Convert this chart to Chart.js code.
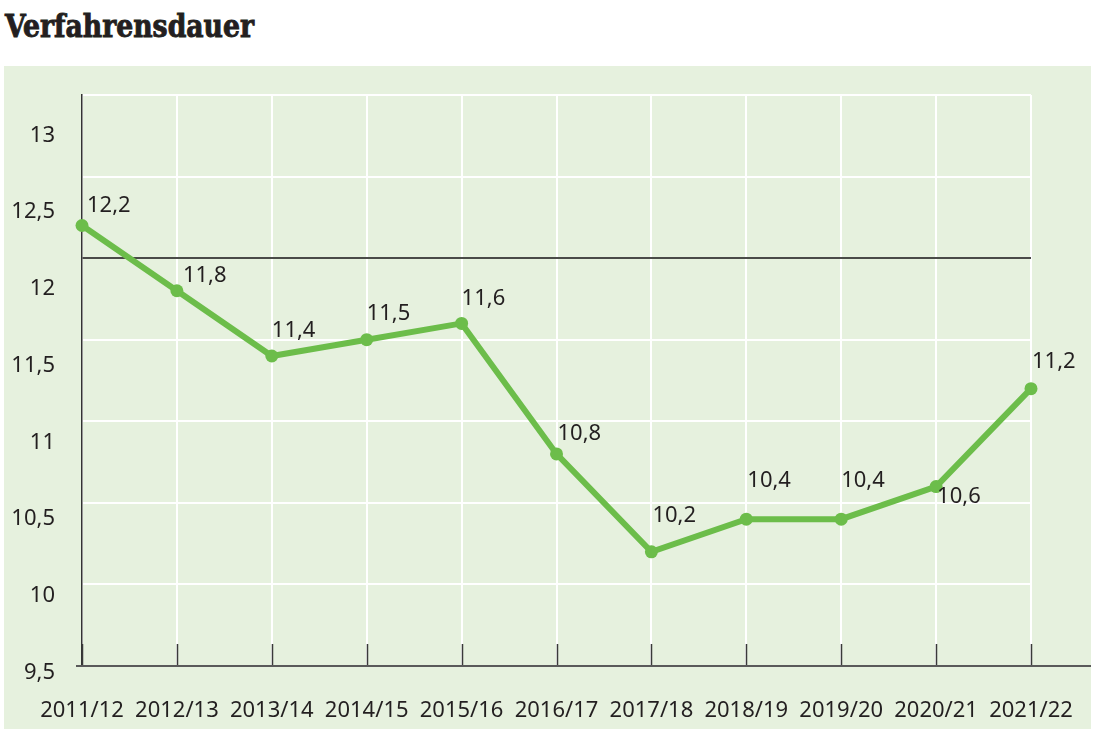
<!DOCTYPE html>
<html>
<head>
<meta charset="utf-8">
<script src="https://cdn.jsdelivr.net/npm/chart.js@4.4.1/dist/chart.umd.min.js"></script>
<style>
body{margin:0;background:#fff;width:1105px;height:739px;overflow:hidden;}
h1{position:absolute;left:5px;top:10px;margin:0;font-family:"DejaVu Serif",serif;font-stretch:condensed;font-weight:bold;font-size:32px;line-height:32px;color:#231f20;-webkit-text-stroke:0.9px #231f20;transform-origin:left top;white-space:nowrap;}
#box{position:absolute;left:4px;top:66px;width:1087px;height:663px;background:#e6f1de;}
</style>
</head>
<body>
<h1 id="title">Verfahrensdauer</h1>
<div id="box"><canvas id="chart" width="1087" height="663"></canvas></div>
<script>
var years = ['2011/12', '2012/13', '2013/14', '2014/15', '2015/16', '2016/17', '2017/18', '2018/19', '2019/20', '2020/21', '2021/22'];
var dauer = [12.2, 11.8, 11.4, 11.5, 11.6, 10.8, 10.2, 10.4, 10.4, 10.6, 11.2];
var yTicks = [9.5, 10, 10.5, 11, 11.5, 12, 12.5, 13];
var refLine = 12;

var green = '#6cbd4a';
var ink = '#231f20';
var font = '"Noto Sans", sans-serif';

// where each value label sits relative to its point (dx, dy)
var labelShift = [[5,-20],[6,-15],[0,-25],[0,-26],[0,-25],[1,-20],[1,-36],[1,-38],[0,-38],[1,10],[1,-27]];

function komma(v){
	return String(v).replace('.', ',');
}

function noPad(axis){
	axis.paddingLeft = 0;
	axis.paddingRight = 0;
	axis.paddingTop = 0;
	axis.paddingBottom = 0;
}

// title squeezed to the width of the original
var t = document.getElementById('title');
t.style.transform = 'scaleX(' + (249 / t.getBoundingClientRect().width) + ')';

var extras = {
	id: 'extras',
	afterDraw: function(chart){
		let ctx = chart.ctx;
		let area = chart.chartArea;
		let x = chart.scales.x;
		ctx.save();
		// inner tick marks on the x axis
		ctx.strokeStyle = '#3a3a3a';
		ctx.lineWidth = 1.5;
		for(let i = 0; i < years.length; i++){
			let px = Math.round(x.getPixelForTick(i)) + 0.5;
			ctx.beginPath();
			ctx.moveTo(px, area.bottom - 22);
			ctx.lineTo(px, area.bottom);
			ctx.stroke();
		}
		// bottom axis line, runs out to the box edge
		ctx.strokeStyle = '#5a5a5a';
		ctx.lineWidth = 2;
		ctx.beginPath();
		ctx.moveTo(area.left - 6, area.bottom);
		ctx.lineTo(chart.width, area.bottom);
		ctx.stroke();
		// value labels
		let meta = chart.getDatasetMeta(0);
		ctx.font = '22px ' + font;
		ctx.fillStyle = ink;
		ctx.textAlign = 'left';
		ctx.textBaseline = 'middle';
		meta.data.forEach(function(pt, i){
			ctx.fillText(komma(dauer[i]), pt.x + labelShift[i][0], pt.y + labelShift[i][1]);
		});
		ctx.restore();
	}
};

new Chart(document.getElementById('chart'), {
	type: 'line',
	data: {
		labels: years,
		datasets: [{
			label: 'Verfahrensdauer',
			data: dauer,
			borderColor: green,
			backgroundColor: green,
			borderWidth: 6,
			pointRadius: 6.5,
			pointBorderWidth: 0,
			pointBackgroundColor: green,
			tension: 0,
			clip: false
		}]
	},
	options: {
		responsive: false,
		animation: false,
		layout: {padding: {top: 29, right: 60, left: 0, bottom: 0}},
		plugins: {
			legend: {display: false},
			tooltip: {enabled: false}
		},
		scales: {
			x: {
				type: 'category',
				offset: false,
				grid: {color: '#ffffff', lineWidth: 2, drawTicks: false},
				border: {display: false},
				ticks: {
					color: ink,
					font: {family: font, size: 22},
					padding: 32,
					maxRotation: 0,
					autoSkip: false
				},
				afterFit: function(axis){ axis.height = 63; noPad(axis); }
			},
			y: {
				position: 'left',
				weight: 0,
				min: 9.5,
				max: 13,
				ticks: {display: false, stepSize: 0.5},
				grid: {
					color: function(c){ return c.tick && c.tick.value === refLine ? '#4a4a48' : '#ffffff'; },
					lineWidth: 2,
					drawTicks: false
				},
				border: {display: true, color: '#333333', width: 1.5},
				afterFit: function(axis){ axis.width = 0; noPad(axis); }
			},
			y2: {
				// the printed labels sit a little below their grid lines
				position: 'left',
				weight: 1,
				min: 9.542,
				max: 13.264,
				grid: {display: false, drawTicks: false},
				border: {display: false},
				ticks: {
					color: ink,
					font: {family: font, size: 22},
					padding: 27,
					autoSkip: false,
					callback: function(v){ return komma(v); }
				},
				afterBuildTicks: function(axis){
					axis.ticks = yTicks.map(function(v){ return {value: v}; });
				},
				afterFit: function(axis){ axis.width = 78; noPad(axis); }
			}
		}
	},
	plugins: [extras]
});
</script>
</body>
</html>
